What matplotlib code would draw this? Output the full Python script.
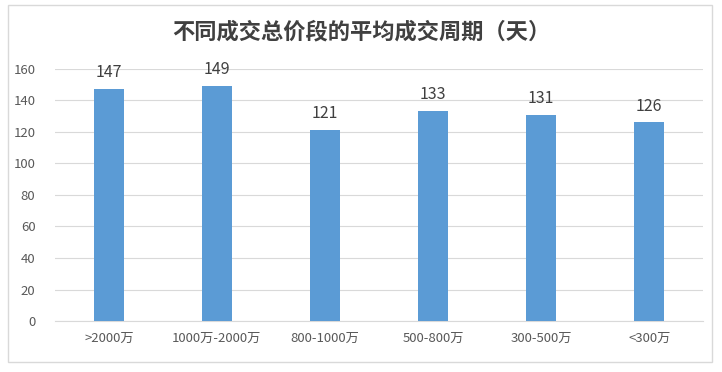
import matplotlib.pyplot as plt
from matplotlib.patches import Rectangle

plt.rcParams['font.family'] = ['Noto Sans CJK SC', 'DejaVu Sans']

categories = [">2000万", "1000万-2000万", "800-1000万", "500-800万", "300-500万", "<300万"]
days = [147, 149, 121, 133, 131, 126]
yticks = [0, 20, 40, 60, 80, 100, 120, 140, 160]

fig = plt.figure(figsize=(7.22, 3.72), dpi=100)
fig.patches.append(Rectangle((8 / 722, 10 / 372), 704 / 722, 357 / 372,
                             transform=fig.transFigure, fill=False,
                             ec="#D9D9D9", lw=1.0))
ax = fig.add_axes([0.076, 0.137, 0.898, 0.678])

x = range(len(categories))
bars = ax.bar(x, days, width=0.28, color="#5B9BD5", zorder=3)
for b, v in zip(bars, days):
    ax.text(b.get_x() + b.get_width() / 2, v + 5, str(v), ha="center", va="bottom",
            fontsize=11.5, color="#404040")

ax.set_ylim(0, 160)
ax.set_xlim(-0.5, len(categories) - 0.5)
ax.set_yticks(yticks)
ax.set_xticks(list(x))
ax.set_xticklabels(categories)
ax.grid(axis="y", color="#D9D9D9", lw=0.8, zorder=0)
for s in ["top", "right", "left"]:
    ax.spines[s].set_visible(False)
ax.spines["bottom"].set_color("#D9D9D9")
ax.tick_params(axis="both", length=0, labelsize=9.5, colors="#595959")
ax.tick_params(axis="x", pad=8)
ax.tick_params(axis="y", pad=14)

fig.text(0.5, 0.915, "不同成交总价段的平均成交周期（天）", ha="center", va="center",
         fontsize=16, fontweight="bold", color="#404040")

fig.savefig("out.png")
